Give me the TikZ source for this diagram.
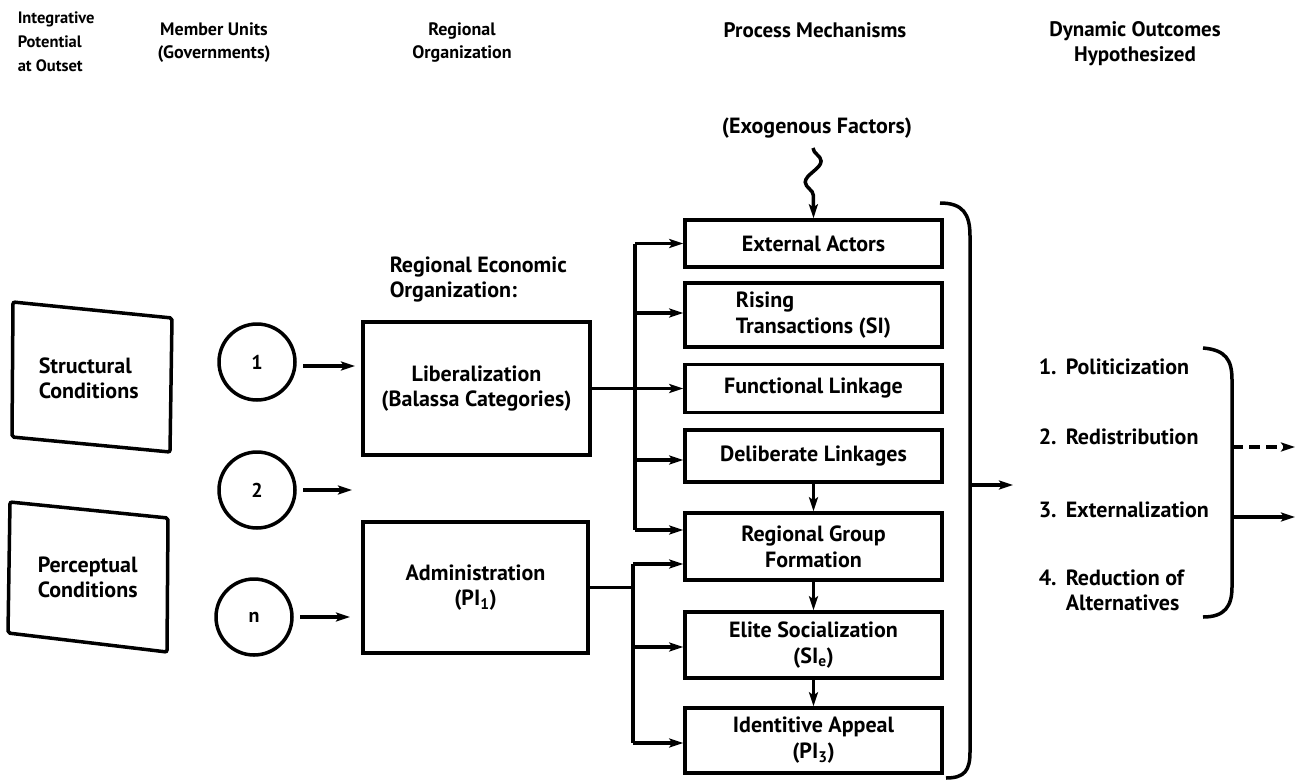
\documentclass[tikz,border=0pt]{standalone}
\usepackage{fontspec}
\setmainfont{PT Sans}
\usetikzlibrary{arrows.meta,decorations.pathmorphing}

\begin{document}
\begin{tikzpicture}[x=1pt,y=-1pt,
  line width=3.5pt,
  txt/.style={font=\fontsize{22}{25}\selectfont\bfseries, inner sep=0pt},
  head/.style={font=\fontsize{18}{23}\selectfont\bfseries, inner sep=0pt, align=center},
  pbox/.style={draw, rectangle, minimum width=257pt, inner sep=0pt, align=center,
               font=\fontsize{22}{26}\selectfont\bfseries},
  obox/.style={draw, rectangle, inner sep=0pt, align=center,
               font=\fontsize{22}{25}\selectfont\bfseries},
  unit/.style={draw, circle, minimum size=76pt, inner sep=0pt,
               font=\fontsize{20}{23}\selectfont\bfseries},
  arr/.style={-{Stealth[length=14pt,width=9pt,inset=3pt]}},
]
\useasboundingbox (0,0) rectangle (1298,782);

% ---- column headings
\node[head, anchor=west, align=left, font=\fontsize{16.5}{24}\selectfont\bfseries]
  (hint) at (16,42) {Integrative\\Potential\\at Outset};
\node[head] (hmem) at (214,43) {Member Units\\(Governments)};
\node[head] (hreg) at (462,43) {Regional\\Organization};
\node[head, font=\fontsize{21}{23}\selectfont\bfseries] (hproc) at (815,30) {Process Mechanisms};
\node[head, font=\fontsize{21}{25}\selectfont\bfseries] (hdyn) at (1135,44) {Dynamic Outcomes\\Hypothesized};

% ---- integrative potential
\draw[rounded corners=2pt] (13,302) -- (172,318) -- (170,452) -- (12,437) -- cycle;
\node[txt, anchor=west, align=left] (struct) at (37,378) {Structural\\Conditions};
\draw[rounded corners=2pt] (10,502) -- (168,518) -- (167,652) -- (8,633) -- cycle;
\node[txt, anchor=west, align=left] (percep) at (36,577) {Perceptual\\Conditions};

% ---- member units
\node[unit] (u1) at (257,362) {1};
\node[unit] (u2) at (257,490) {2};
\node[unit] (un) at (254,617) {n};
\coordinate (u1s) at (303,366);
\coordinate (u1e) at (355,366);
\coordinate (u2s) at (303,490);
\coordinate (u2e) at (352,490);
\coordinate (uns) at (300,617);
\coordinate (une) at (350,617);
\draw[arr] (u1s) -- (u1e);
\draw[arr] (u2s) -- (u2e);
\draw[arr] (uns) -- (une);

% ---- regional organization
\node[txt, anchor=west, align=left] (reo) at (388,280) {Regional Economic\\Organization:};
\node[obox, minimum width=227pt, minimum height=133pt] (lib) at (476.5,388.5)
  {Liberalization\\(Balassa Categories)};
\node[obox, minimum width=225pt, minimum height=131pt] (adm) at (475.5,587.5)
  {Administration\\(PI\textsubscript{1})};

% ---- process mechanisms
\node[pbox, minimum height=47pt] (ea) at (813.5,243.5) {External Actors};
\node[pbox, minimum height=64pt] (rt) at (813.5,315)
  {\begin{tabular}{@{}l@{}}Rising\\Transactions (SI)\end{tabular}};
\node[pbox, minimum height=48pt] (fl) at (813.5,388.5) {Functional Linkage};
\node[pbox, minimum height=52pt] (dl) at (813.5,456) {Deliberate Linkages};
\node[pbox, minimum height=67pt] (rg) at (813.5,546.5) {Regional Group\\Formation};
\node[pbox, minimum height=66pt] (es) at (813.5,645) {Elite Socialization\\(SI\textsubscript{e})};
\node[pbox, minimum height=65pt] (ia) at (813.5,740.5) {Identitive Appeal\\(PI\textsubscript{3})};

\draw[arr] (dl) -- (rg);
\draw[arr] (rg) -- (es);
\draw[arr] (es) -- (ia);

% exogenous influence
\node[txt] (exo) at (817,128) {(Exogenous Factors)};
\draw[arr, decorate, decoration={snake, amplitude=8pt, segment length=42pt, post length=14pt}]
  (exo.south) ++(-4,8) -- (ea.north);

% first distribution bus (liberalization)
\coordinate (b1a) at (635,243.5);
\coordinate (b1b) at (635,313);
\coordinate (b1c) at (635,460);
\coordinate (b1d) at (635,530);
\draw (b1a) -- (b1d);
\draw[arr] (lib.east) -- (lib.east -| fl.west);
\draw[arr] (b1a) -- (b1a -| ea.west);
\draw[arr] (b1b) -- (b1b -| rt.west);
\draw[arr] (b1c) -- (b1c -| dl.west);
\draw[arr] (b1d) -- (b1d -| rg.west);

% second distribution bus (administration)
\coordinate (b2a) at (633,564);
\coordinate (b2b) at (633,647);
\coordinate (b2c) at (633,743);
\draw (b2a) -- (b2c);
\draw (adm.east) -- (adm.east -| b2a);
\draw[arr] (b2a) -- (b2a -| rg.west);
\draw[arr] (b2b) -- (b2b -| es.west);
\draw[arr] (b2c) -- (b2c -| ia.west);

% bracket round the mechanisms
\draw (940,203) .. controls (963,203) and (970,214) .. (970,236)
  -- (970,752) .. controls (970,770) and (965,778) .. (946,778);
\coordinate (brk) at (970,485);
\coordinate (brkend) at (1013,485);
\draw[arr] (brk) -- (brkend);

% ---- dynamic outcomes
\node[txt, anchor=west] (o1) at (1037,367) {\makebox[27pt][l]{1.}Politicization};
\node[txt, anchor=west] (o2) at (1037,437) {\makebox[27pt][l]{2.}Redistribution};
\node[txt, anchor=west] (o3) at (1037,510) {\makebox[27pt][l]{3.}Externalization};
\node[txt, anchor=west, align=left] (o4) at (1037,590)
  {\makebox[27pt][l]{4.}Reduction of\\\hspace*{27pt}Alternatives};

\draw (1203,348) .. controls (1226,350) and (1232,360) .. (1232,380)
  -- (1232,587) .. controls (1232,606) and (1225,617) .. (1203,617);
\coordinate (dyn1) at (1232,447);
\coordinate (dyn1e) at (1295,447);
\coordinate (dyn2) at (1232,517);
\coordinate (dyn2e) at (1295,517);
\draw[arr, dash pattern=on 11pt off 6pt] (dyn1) -- (dyn1e);
\draw[arr] (dyn2) -- (dyn2e);
\end{tikzpicture}
\end{document}
